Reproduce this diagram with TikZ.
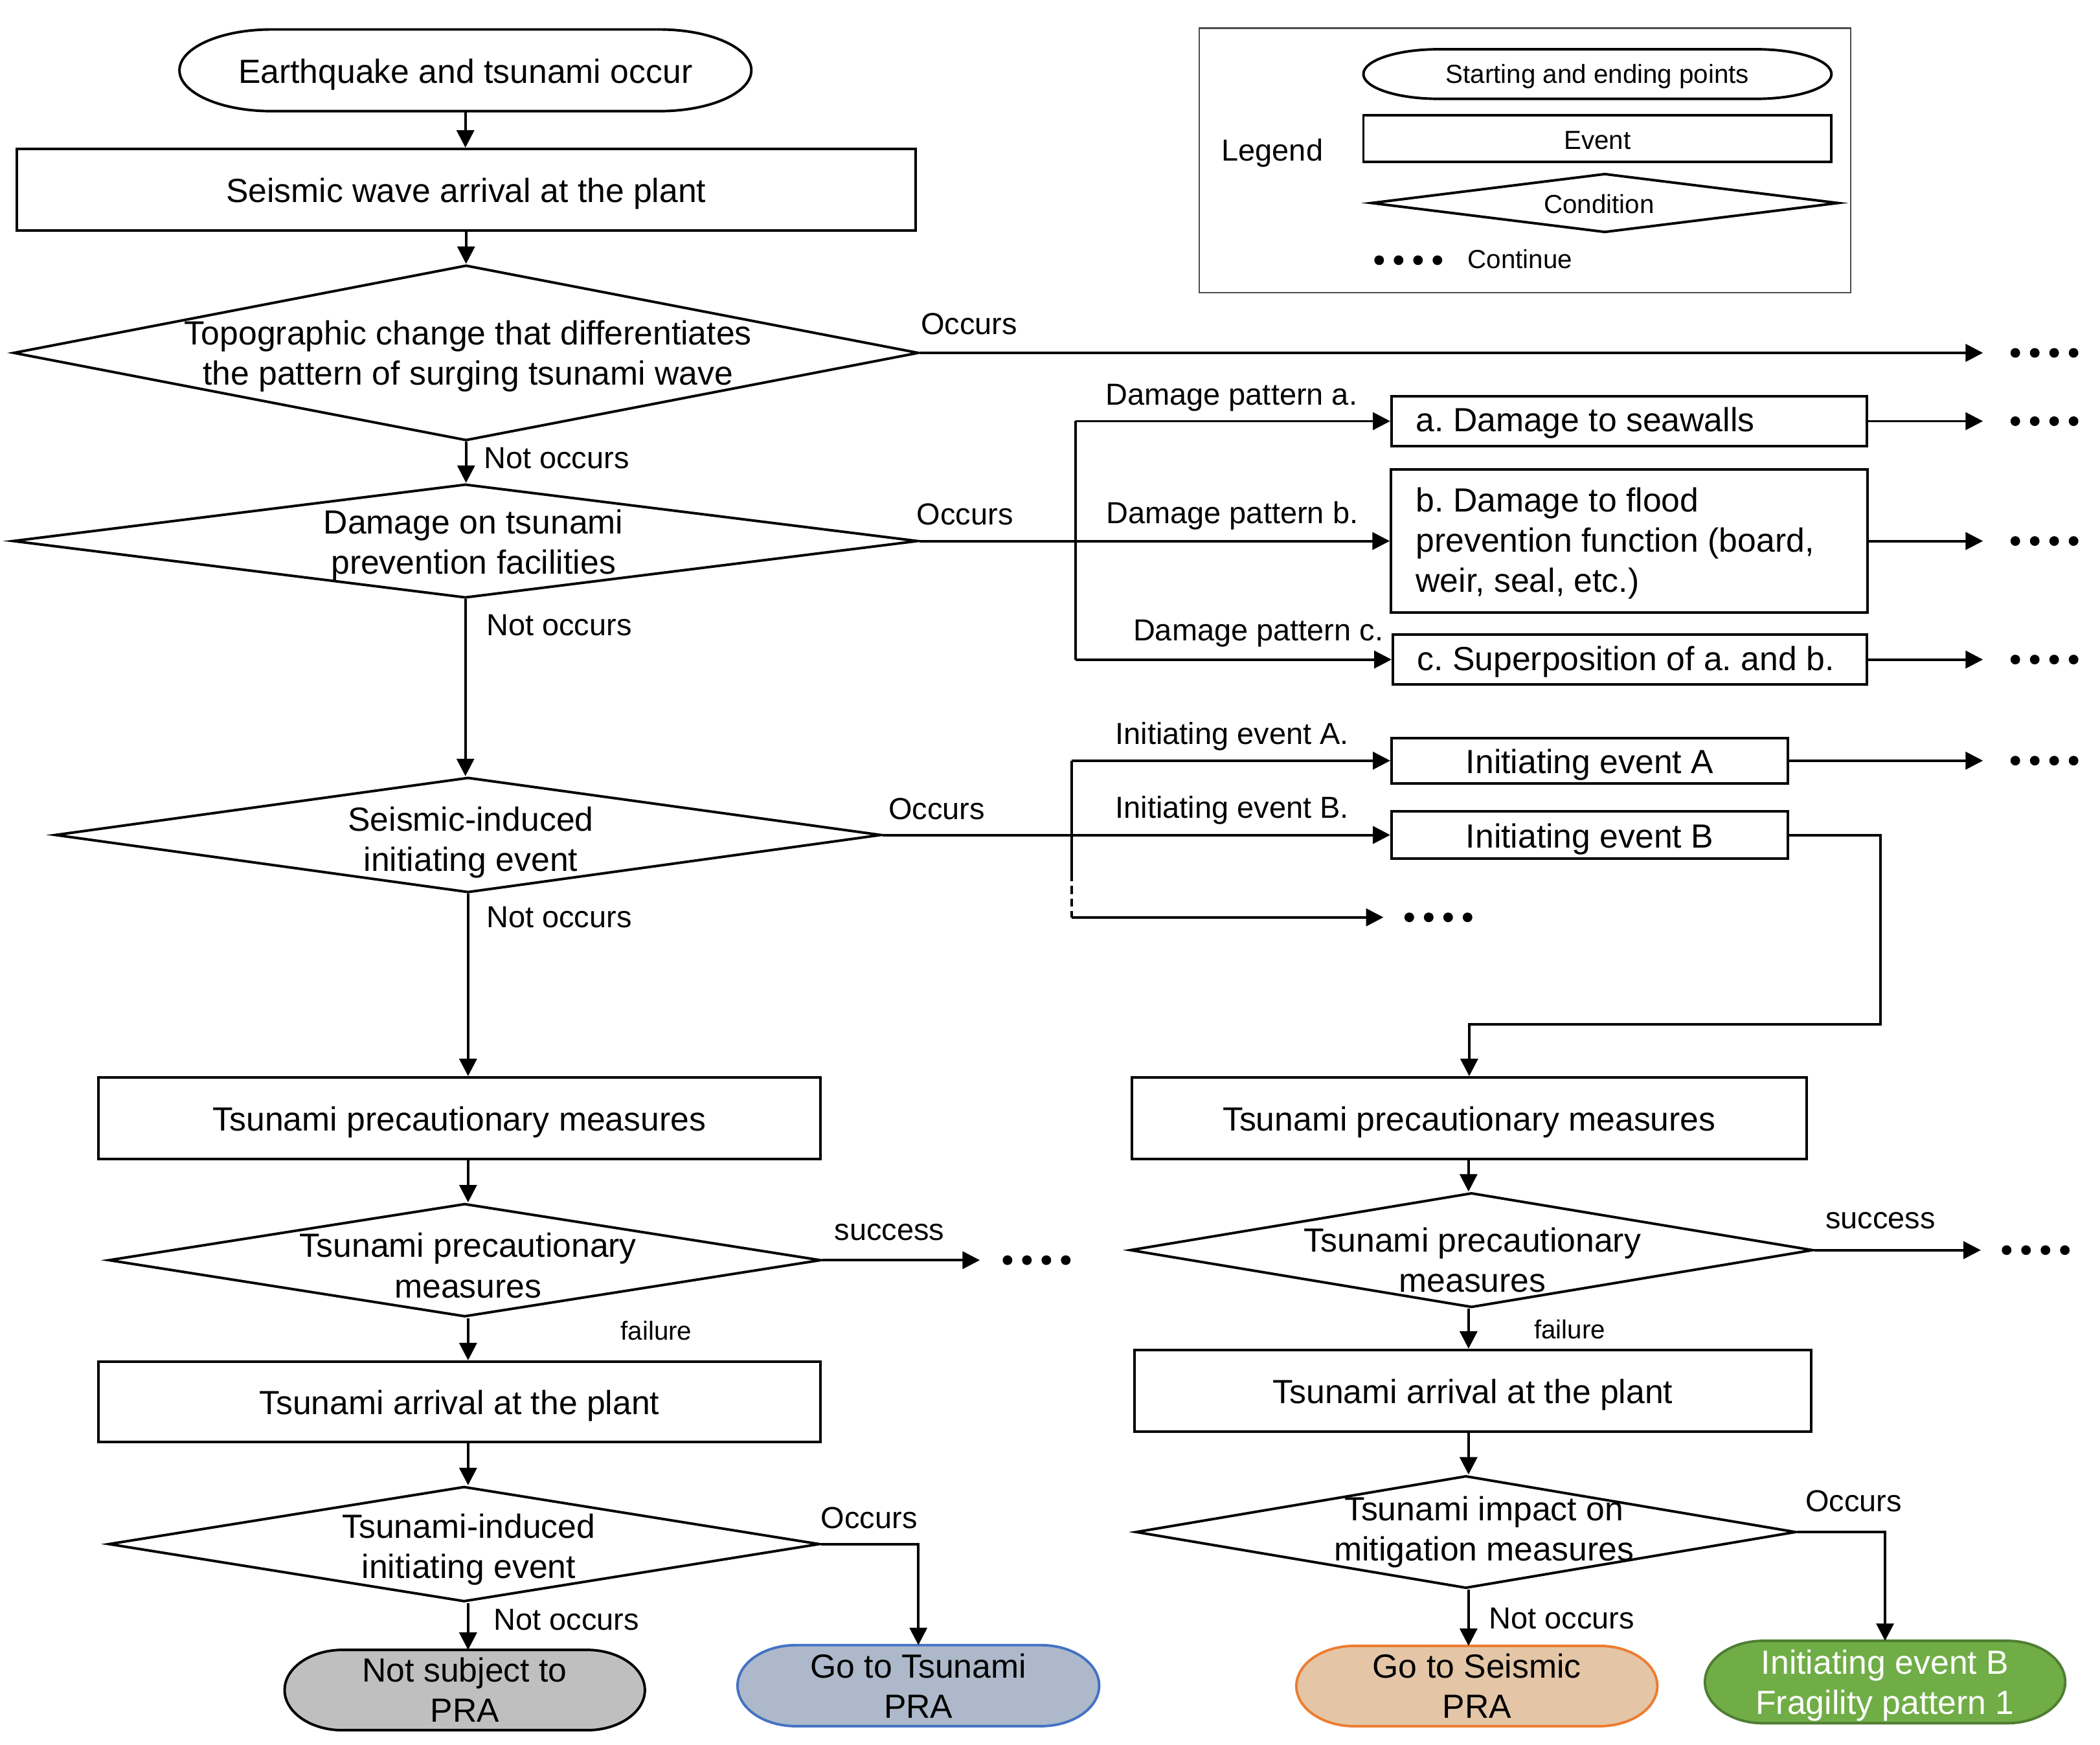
\documentclass[tikz,border=0pt]{standalone}
\usepackage{fontspec}
\setmainfont{Liberation Sans}
\usetikzlibrary{shapes.geometric,arrows.meta,backgrounds}
\definecolor{grayfill}{HTML}{BFBFBF}
\definecolor{bluefill}{HTML}{ADB9CA}
\definecolor{blueline}{HTML}{4472C4}
\definecolor{orangefill}{HTML}{E4C6A6}
\definecolor{orangeline}{HTML}{ED7D31}
\definecolor{greenfill}{HTML}{70AD47}
\definecolor{greenline}{HTML}{507E32}
\newcommand\termpath[4]{%
  \path[#2] ([xshift=#3]#1.north west) -- ([xshift=-#3]#1.north east)
    arc[start angle=90,end angle=-90,x radius=#3,y radius=#4]
    -- ([xshift=#3]#1.south west)
    arc[start angle=270,end angle=90,x radius=#3,y radius=#4] -- cycle;}
\tikzset{
  ln/.style={line width=1.9pt},
  arr/.style={line width=1.9pt,-{Triangle[length=13pt,width=13pt]}},
  box/.style={draw,line width=1.9pt,inner sep=0pt,align=center,text height=24pt,font=\fontsize{25}{30}\selectfont},
  cond/.style={draw,diamond,line width=1.9pt,inner sep=0pt},
  txt/.style={inner sep=0pt,align=center,font=\fontsize{25}{30}\selectfont},
  lbl/.style={inner sep=0pt,font=\fontsize{22.7}{27}\selectfont},
  sml/.style={inner sep=0pt,font=\fontsize{19.5}{23}\selectfont},
  term/.style={inner sep=0pt,outer sep=0pt,align=center,font=\fontsize{25}{30}\selectfont},
  contdots/.pic={\foreach \k in {-1.5,-0.5,0.5,1.5}\fill (\k*14.5pt,0pt) circle[radius=3.6pt];},
}
\begin{document}
\frenchspacing
\begin{tikzpicture}[x=1pt,y=-1pt]
\path[use as bounding box] (0,0) rectangle (1568,1303);
% ---------- left column ----------
\node[term,text height=24pt,minimum width=427pt,minimum height=61pt] (ts) at (347.5,52.5) {Earthquake and tsunami occur};
\node[box,minimum width=671pt,minimum height=61pt] (bw) at (348,141.7) {Seismic wave arrival at the plant};
\node[cond,minimum width=676pt,minimum height=131pt] (d1) at (348,263.5) {};
\node[txt] at (349.5,266) {Topographic change that differentiates\\the pattern of surging tsunami wave};
\node[cond,minimum width=676pt,minimum height=85pt] (d2) at (347.5,404) {};
\node[txt] at (353.5,407) {Damage on tsunami\\prevention facilities};
\node[cond,minimum width=617pt,minimum height=86pt] (d3) at (349.5,623.5) {};
\node[txt] at (351.5,629) {Seismic-induced\\initiating event};
\node[box,minimum width=539pt,minimum height=61pt] (lp) at (343,835) {Tsunami precautionary measures};
\node[cond,minimum width=532pt,minimum height=84.5pt] (d4) at (347,941) {};
\node[txt] at (349.5,945) {Tsunami precautionary\\measures};
\node[box,minimum width=539pt,minimum height=60pt] (la) at (343,1046.7) {Tsunami arrival at the plant};
\node[cond,minimum width=531pt,minimum height=86pt] (d5) at (346.5,1153) {};
\node[txt] at (350,1157) {Tsunami-induced\\initiating event};
\node[term,minimum width=269pt,minimum height=60pt] (tg) at (347,1262) {Not subject to\\PRA};
\node[term,minimum width=270pt,minimum height=60.5pt] (tb) at (685.7,1258.7) {Go to Tsunami\\PRA};
% ---------- right part ----------
\node[box,minimum width=355pt,minimum height=37.5pt] (ba) at (1216.5,314.5) {};
\node[txt,align=left,anchor=west] at (1057,316) {a. Damage to seawalls};
\node[box,minimum width=356pt,minimum height=107pt] (bb) at (1216.6,404) {};
\node[txt,align=left,anchor=west] at (1057,405.5) {b. Damage to flood\\prevention function (board,\\weir, seal, etc.)};
\node[box,minimum width=354pt,minimum height=37pt] (bc) at (1217,492.5) {};
\node[txt,align=left,anchor=west] at (1058,494) {c. Superposition of a. and b.};
\node[box,minimum width=296pt,minimum height=34pt] (bA) at (1187,568) {Initiating event A};
\node[box,minimum width=296pt,minimum height=35pt] (bB) at (1187,623.5) {Initiating event B};
\node[box,minimum width=504pt,minimum height=61pt] (rp) at (1097,835) {Tsunami precautionary measures};
\node[cond,minimum width=510pt,minimum height=85.6pt] (d6) at (1098.7,933.5) {};
\node[txt] at (1099.5,941) {Tsunami precautionary\\measures};
\node[box,minimum width=505.5pt,minimum height=61pt] (ra) at (1099.7,1038.5) {Tsunami arrival at the plant};
\node[cond,minimum width=493pt,minimum height=84pt] (d7) at (1094.5,1144) {};
\node[txt] at (1108,1144) {Tsunami impact on\\mitigation measures};
\node[term,minimum width=269.5pt,minimum height=60pt] (to) at (1102.7,1259) {Go to Seismic\\PRA};
\node[term,minimum width=269pt,minimum height=61.5pt] (tgr) at (1407.5,1256) {};
\node[txt,text=white] at (1407.5,1258.5) {Initiating event B\\Fragility pattern 1};
% ---------- legend ----------
\node[draw=black!70,line width=1.1pt,minimum width=486.4pt,minimum height=197.5pt,inner sep=0pt] (lg) at (1138.8,119.75) {};
\node[lbl] at (950,114.4) {Legend};
\node[term,font=\fontsize{19.5}{23}\selectfont,text height=18pt,minimum width=349.5pt,minimum height=37pt] (lgs) at (1192.75,55.3) {Starting and ending points};
\node[box,font=\fontsize{19.5}{23}\selectfont,text height=16pt,minimum width=349.5pt,minimum height=35pt] (lge) at (1192.75,103.5) {Event};
\node[cond,minimum width=349pt,minimum height=44pt] (lgc) at (1198.25,151.6) {};
\node[sml] at (1194,152.5) {Condition};
\pic at (1051.5,194.3) {contdots};
\node[sml] at (1135,193.5) {Continue};
% ---------- labels ----------
\node[lbl] at (723.5,242) {Occurs};
\node[lbl] at (415.5,342) {Not occurs};
\node[lbl] at (720.5,384) {Occurs};
\node[lbl] at (919.5,297) {Damage pattern a.};
\node[lbl] at (920,385) {Damage pattern b.};
\node[lbl] at (939.5,473) {Damage pattern c.};
\node[lbl] at (417.5,467) {Not occurs};
\node[lbl] at (920,550) {Initiating event A.};
\node[lbl] at (920,605) {Initiating event B.};
\node[lbl] at (699.5,604) {Occurs};
\node[lbl] at (417.5,685) {Not occurs};
\node[lbl] at (664,920) {success};
\node[sml] at (490,993.5) {failure};
\node[lbl] at (649,1133.5) {Occurs};
\node[lbl] at (423,1209.5) {Not occurs};
\node[lbl] at (1404,911.5) {success};
\node[sml] at (1172,992.5) {failure};
\node[lbl] at (1384,1121) {Occurs};
\node[lbl] at (1166,1208.5) {Not occurs};
% ---------- connectors ----------
\coordinate (xr) at (1480.6,0);
\coordinate (xd) at (1526.5,0);
\draw[arr] (ts.south) -- (ts.south |- bw.north);
\draw[arr] (bw.south) -- (bw.south |- d1.north);
\draw[arr] (d1.east) -- (d1.east -| xr);
\pic at (d1.east -| xd) {contdots};
\draw[arr] (d1.south) -- (d1.south |- d2.north);
\draw[arr] (d2.east) -- (bb.west);
\coordinate (jd) at (803,0);
\draw[ln] (jd |- ba.west) -- (jd |- bc.west);
\draw[arr] (jd |- ba.west) -- (ba.west);
\draw[arr] (jd |- bc.west) -- (bc.west);
\foreach \nm in {ba,bb,bc,bA} {
  \draw[arr] (\nm.east) -- (\nm.east -| xr);
  \pic at (\nm.east -| xd) {contdots};
}
\draw[arr] (d2.south) -- (d2.south |- d3.north);
\draw[arr] (d3.east) -- (bB.west);
\coordinate (ji) at (800,0);
\coordinate (jq) at (800,652);
\coordinate (jb) at (800,685);
\coordinate (tq) at (1033,685);
\draw[ln] (ji |- bA.west) -- (jq);
\draw[ln,dash pattern=on 6pt off 3.5pt] (jq) -- (jb);
\draw[arr] (ji |- bA.west) -- (bA.west);
\draw[arr] (jb) -- (tq);
\pic at (1074,685) {contdots};
\coordinate (kb) at (1404,765);
\draw[arr] (bB.east) -| (kb) -| (rp.north);
% left flow
\draw[arr] (d3.south) -- (d3.south |- lp.north);
\draw[arr] (d3.south |- lp.south) -- (d3.south |- d4.north);
\draw[arr] (d3.south |- d4.south) -- (d3.south |- la.north);
\draw[arr] (d3.south |- la.south) -- (d3.south |- d5.north);
\draw[arr] (d3.south |- d5.south) -- (d3.south |- tg.north);
\coordinate (sl) at (731.6,0);
\draw[arr] (d4.east) -- (d4.east -| sl);
\pic at (774,941) {contdots};
\draw[arr] (d5.east) -| (tb.north);
% right flow
\coordinate (cr) at (1096.5,0);
\draw[arr] (cr |- rp.south) -- (cr |- d6.north);
\draw[arr] (cr |- d6.south) -- (cr |- ra.north);
\draw[arr] (cr |- ra.south) -- (cr |- d7.north);
\draw[arr] (cr |- d7.south) -- (cr |- to.north);
\coordinate (sr) at (1479,0);
\draw[arr] (d6.east) -- (d6.east -| sr);
\pic at (1520,933.5) {contdots};
\draw[arr] (d7.east) -| (tgr.north);
% ---------- terminal outlines ----------
\begin{scope}[on background layer]
\fill[white] (0,0) rectangle (1568,1303);
\termpath{ts}{draw=black,line width=1.9pt}{68.7pt}{30.5pt}
\termpath{lgs}{draw=black,line width=1.9pt}{56pt}{18.5pt}
\termpath{tg}{fill=grayfill,draw=black,line width=1.9pt}{43.3pt}{30pt}
\termpath{tb}{fill=bluefill,draw=blueline,line width=1.9pt}{43.5pt}{30.25pt}
\termpath{to}{fill=orangefill,draw=orangeline,line width=1.9pt}{43.4pt}{30pt}
\termpath{tgr}{fill=greenfill,draw=greenline,line width=1.9pt}{43.3pt}{30.75pt}
\end{scope}
\end{tikzpicture}
\end{document}
